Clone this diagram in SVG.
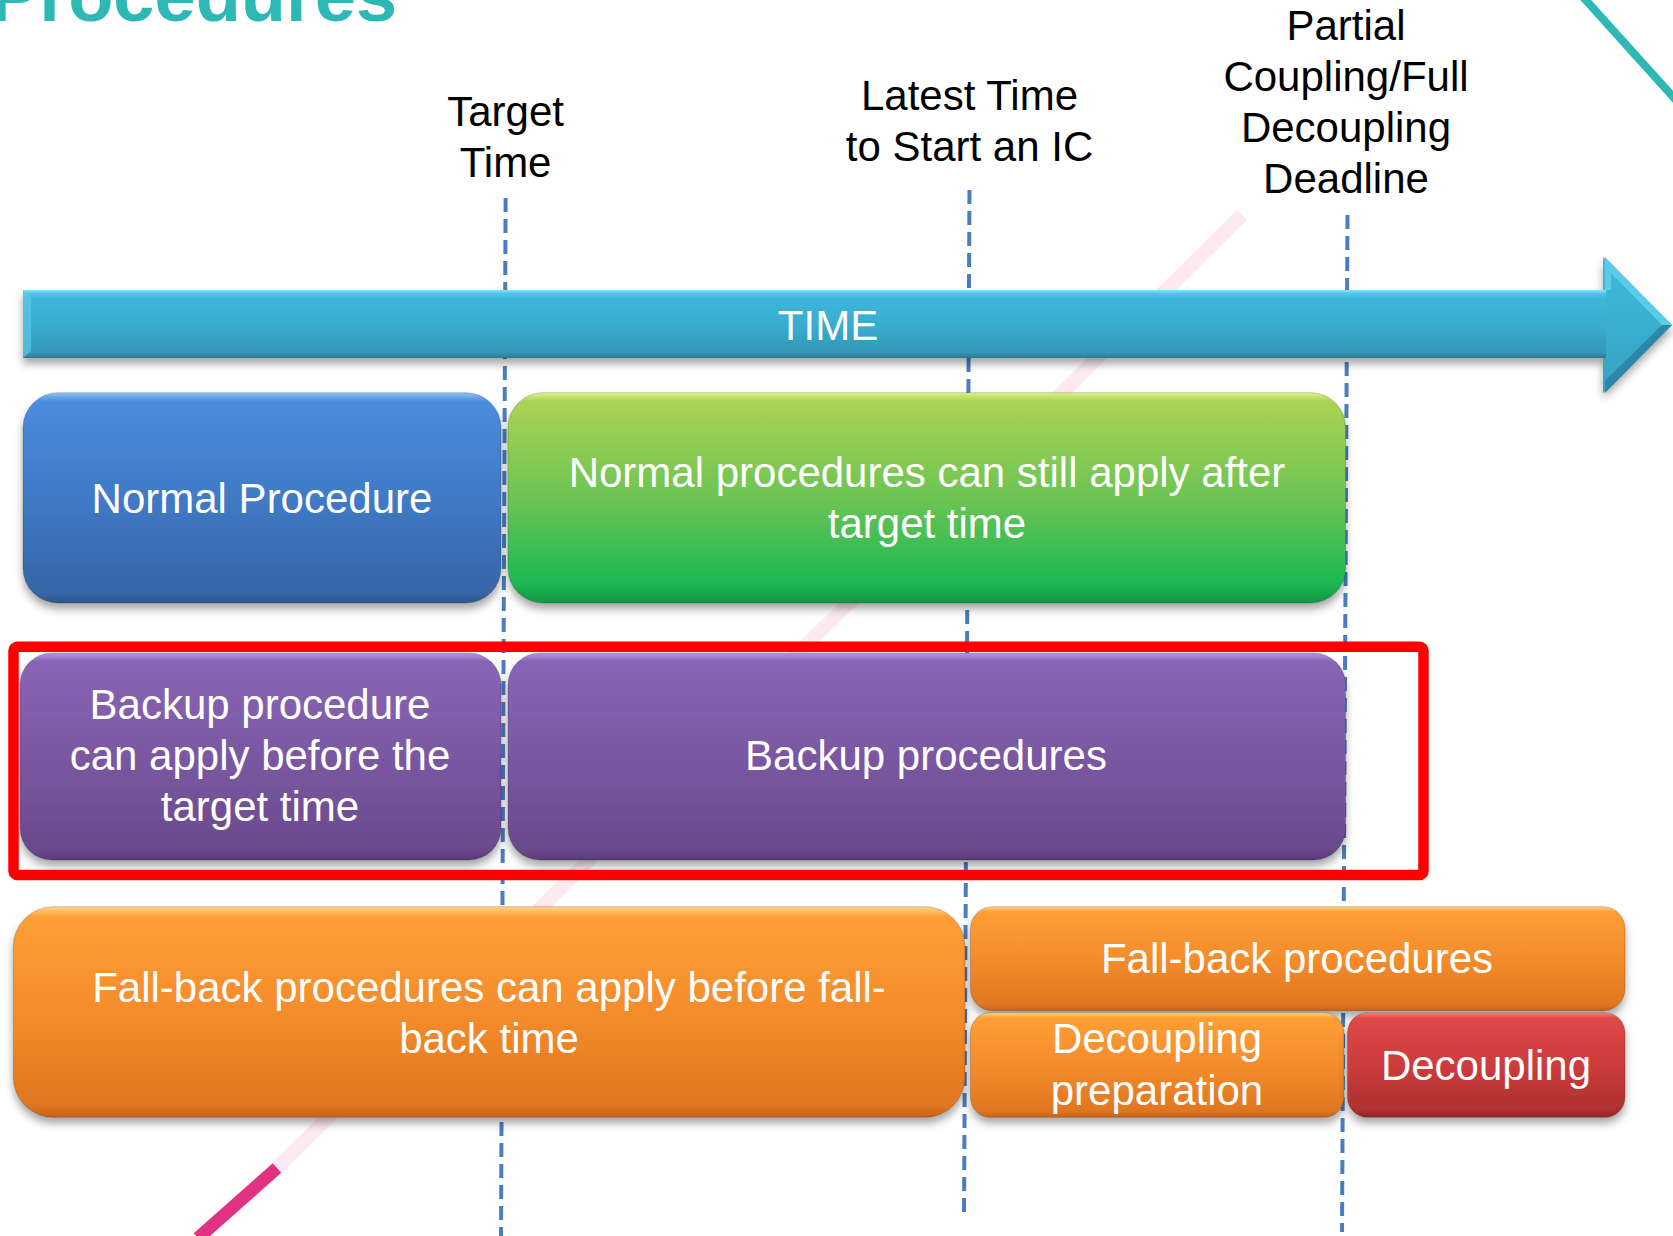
<svg xmlns="http://www.w3.org/2000/svg" width="1673" height="1236" viewBox="0 0 1673 1236">
<style>
.lbl{font-family:"Liberation Sans",Arial,sans-serif;font-size:42px;fill:#000;text-anchor:middle}
.bt{font-family:"Liberation Sans",Arial,sans-serif;font-size:42px;fill:#fff;text-anchor:middle}
.dash{stroke:#4A7DBF;stroke-width:4;stroke-dasharray:14 7;fill:none}
.box{stroke:rgba(0,0,0,0.18);stroke-width:1;filter:url(#sh)}
</style>
<defs>
<filter id="sh" x="-5%" y="-10%" width="110%" height="130%">
<feGaussianBlur in="SourceAlpha" stdDeviation="4"/>
<feOffset dx="0" dy="6" result="b"/>
<feFlood flood-color="#000" flood-opacity="0.35"/>
<feComposite in2="b" operator="in"/>
<feMerge><feMergeNode/><feMergeNode in="SourceGraphic"/></feMerge>
</filter>
<linearGradient id="gBlue" x1="0" y1="0" x2="0" y2="1">
<stop offset="0" stop-color="#8CC3F5"/><stop offset="0.04" stop-color="#4A8CDD"/><stop offset="0.5" stop-color="#407AC6"/><stop offset="0.95" stop-color="#3766A8"/><stop offset="1" stop-color="#2E5690"/>
</linearGradient>
<linearGradient id="gGreen" x1="0" y1="0" x2="0" y2="1">
<stop offset="0" stop-color="#DDF488"/><stop offset="0.04" stop-color="#AAD352"/><stop offset="0.5" stop-color="#6CC453"/><stop offset="0.9" stop-color="#1DB954"/><stop offset="1" stop-color="#139645"/>
</linearGradient>
<linearGradient id="gPurple" x1="0" y1="0" x2="0" y2="1">
<stop offset="0" stop-color="#B597E2"/><stop offset="0.04" stop-color="#8965B6"/><stop offset="0.5" stop-color="#7A58A2"/><stop offset="0.95" stop-color="#694A8C"/><stop offset="1" stop-color="#57397A"/>
</linearGradient>
<linearGradient id="gOrange" x1="0" y1="0" x2="0" y2="1">
<stop offset="0" stop-color="#FFD384"/><stop offset="0.05" stop-color="#FF9E35"/><stop offset="0.5" stop-color="#F48C2C"/><stop offset="0.94" stop-color="#E07620"/><stop offset="1" stop-color="#C6621A"/>
</linearGradient>
<linearGradient id="gRed" x1="0" y1="0" x2="0" y2="1">
<stop offset="0" stop-color="#F5857E"/><stop offset="0.05" stop-color="#E14848"/><stop offset="0.5" stop-color="#CC3C3C"/><stop offset="0.94" stop-color="#AE2F2F"/><stop offset="1" stop-color="#8E2525"/>
</linearGradient>
<linearGradient id="gArrow" gradientUnits="userSpaceOnUse" x1="0" y1="290" x2="0" y2="358">
<stop offset="0" stop-color="#7DEBFF"/><stop offset="0.05" stop-color="#50C8E8"/><stop offset="0.12" stop-color="#3DB7DA"/><stop offset="0.55" stop-color="#38ABCE"/><stop offset="0.92" stop-color="#3496B6"/><stop offset="1" stop-color="#2C7890"/>
</linearGradient>
<linearGradient id="gHead" gradientUnits="userSpaceOnUse" x1="0" y1="257" x2="0" y2="393">
<stop offset="0" stop-color="#3FBADC"/><stop offset="1" stop-color="#35A2C4"/>
</linearGradient>
</defs>
<rect width="1673" height="1236" fill="#fff"/>
<g id="decor">
<text x="-10" y="21" font-family="Liberation Sans,Arial,sans-serif" font-weight="bold" font-size="74" fill="#2EB8B5">Procedures</text>
<line x1="1583" y1="-3" x2="1676" y2="100" stroke="#2EB8B5" stroke-width="8"/>
<line x1="277" y1="1168" x2="1242" y2="215" stroke="#FCEAF0" stroke-width="14"/>
<line x1="198" y1="1238" x2="277" y2="1168" stroke="#E23383" stroke-width="13"/>
</g>
<g id="connectors">
<line class="dash" x1="505.6" y1="198" x2="501" y2="1236"/>
<line class="dash" x1="969.5" y1="190" x2="964" y2="1216"/>
<line class="dash" x1="1347.5" y1="215" x2="1342" y2="1232"/>
</g>
<g id="labels">
<text class="lbl" x="505.6" y="126">Target</text>
<text class="lbl" x="505.6" y="177">Time</text>
<text class="lbl" x="969.5" y="110">Latest Time</text>
<text class="lbl" x="969.5" y="161">to Start an IC</text>
<text class="lbl" x="1346" y="39.5">Partial</text>
<text class="lbl" x="1346" y="90.7">Coupling/Full</text>
<text class="lbl" x="1346" y="141.9">Decoupling</text>
<text class="lbl" x="1346" y="193">Deadline</text>
</g>
<g id="time-arrow">
<g filter="url(#sh)">
<polygon points="1603,257 1672,325 1603,393" fill="url(#gHead)"/>
<rect x="23" y="290" width="1583" height="68" fill="url(#gArrow)"/>
</g>
<polygon points="1605,257 1672,325 1662,325 1611,273 1611,290 1605,290" fill="#5CCBE8"/>
<polygon points="1672,325 1605,393 1605,381 1662,325" fill="#2B88A6"/>
<polygon points="23,290 31,297 31,351 23,358" fill="#5ACAE6" opacity="0.7"/>
<text class="bt" x="828" y="340" font-size="40">TIME</text>
</g>
<g id="normal-procedure">
<rect class="box" x="23" y="392.7" width="478" height="210.3" rx="35" fill="url(#gBlue)"/>
<text class="bt" x="262" y="513.3">Normal Procedure</text>
</g>
<g id="normal-after">
<rect class="box" x="508" y="392.7" width="837.6" height="210.3" rx="35" fill="url(#gGreen)"/>
<text class="bt" x="927" y="487.3">Normal procedures can still apply after</text>
<text class="bt" x="927" y="538.3">target time</text>
</g>
<g id="backup-before">
<rect class="box" x="20" y="653" width="481" height="207" rx="32" fill="url(#gPurple)"/>
<text class="bt" x="260" y="719.3">Backup procedure</text>
<text class="bt" x="260" y="770">can apply before the</text>
<text class="bt" x="260" y="820.7">target time</text>
</g>
<g id="backup">
<rect class="box" x="508" y="653" width="837.6" height="207" rx="32" fill="url(#gPurple)"/>
<text class="bt" x="926" y="770">Backup procedures</text>
</g>
<g id="highlight">
<rect x="13.5" y="646.7" width="1410" height="228.3" rx="4" fill="none" stroke="#FF0000" stroke-width="10.5"/>
</g>
<g id="fallback-before">
<rect class="box" x="13.3" y="906.7" width="951.7" height="210.6" rx="40" fill="url(#gOrange)"/>
<text class="bt" x="489" y="1001.7">Fall-back procedures can apply before fall-</text>
<text class="bt" x="489" y="1052.7">back time</text>
</g>
<g id="fallback">
<rect class="box" x="970.5" y="906.7" width="654.5" height="104" rx="22" fill="url(#gOrange)"/>
<text class="bt" x="1297" y="973.3">Fall-back procedures</text>
</g>
<g id="decoupling-prep">
<rect class="box" x="970.5" y="1012.7" width="373.5" height="104.6" rx="20" fill="url(#gOrange)"/>
<text class="bt" x="1157" y="1053.3">Decoupling</text>
<text class="bt" x="1157" y="1105">preparation</text>
</g>
<g id="decoupling">
<rect class="box" x="1347.5" y="1012.7" width="277.5" height="104.6" rx="20" fill="url(#gRed)"/>
<text class="bt" x="1486" y="1080">Decoupling</text>
</g>
</svg>
